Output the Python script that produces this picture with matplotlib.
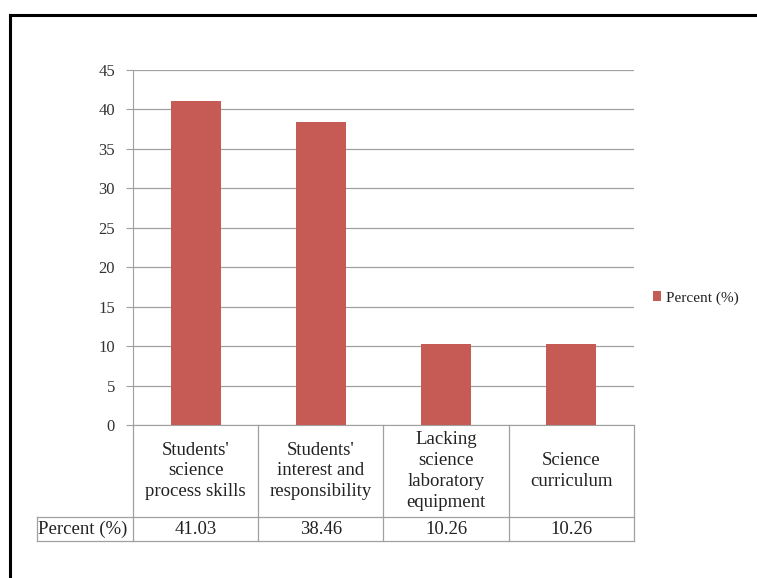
import matplotlib.pyplot as plt
from matplotlib.lines import Line2D
from matplotlib.transforms import blended_transform_factory

# --- Data ---
categories = ["Students'\nscience\nprocess skills",
              "Students'\ninterest and\nresponsibility",
              "Lacking\nscience\nlaboratory\nequipment",
              "Science\ncurriculum"]
values = [41.03, 38.46, 10.26, 10.26]
value_labels = ["41.03", "38.46", "10.26", "10.26"]
series_name = "Percent (%)"
yticks = [0, 5, 10, 15, 20, 25, 30, 35, 40, 45]

plt.rcParams["font.family"] = ["Liberation Serif", "DejaVu Serif"]

fig = plt.figure(figsize=(7.57, 5.78), dpi=100)
ax = fig.add_axes([0.1757, 0.2647, 0.6618, 0.6142])

grid_col = "#a0a0a0"
bar_col = "#c65b56"
txt_col = "#222222"

x = list(range(len(categories)))
ax.bar(x, values, width=0.4, color=bar_col, label=series_name, zorder=3)

ax.set_xlim(-0.5, len(categories) - 0.5)
ax.set_ylim(0, 45)
ax.set_yticks(yticks)
ax.set_xticks([])
ax.yaxis.grid(True, color=grid_col, linewidth=0.9, zorder=0)
ax.tick_params(axis="y", length=5, color=grid_col, labelsize=12, pad=8,
               labelcolor="#333333")
for s in ["top", "right"]:
    ax.spines[s].set_visible(False)
ax.spines["left"].set_color(grid_col)
ax.spines["bottom"].set_color(grid_col)

# --- Data table under the plot ---
tr = blended_transform_factory(ax.transData, ax.transAxes)
row1_bot = -0.259
row2_bot = -0.327
lab_left = -0.5 - 0.766
lkw = dict(color=grid_col, linewidth=0.9, transform=tr, clip_on=False)
# vertical lines of header cells
for xi in [i - 0.5 for i in range(len(categories) + 1)]:
    ax.add_line(Line2D([xi, xi], [0, row2_bot], **lkw))
ax.add_line(Line2D([lab_left, lab_left], [row1_bot, row2_bot], **lkw))
ax.add_line(Line2D([lab_left, len(categories) - 0.5], [row1_bot, row1_bot], **lkw))
ax.add_line(Line2D([lab_left, len(categories) - 0.5], [row2_bot, row2_bot], **lkw))

for i, (cat, lab) in enumerate(zip(categories, value_labels)):
    ax.text(i, row1_bot / 2, cat, transform=tr, ha="center", va="center",
            fontsize=13.5, linespacing=1.3, color=txt_col)
    ax.text(i, (row1_bot + row2_bot) / 2, lab, transform=tr, ha="center",
            va="center", fontsize=13.5, color=txt_col)
ax.text(lab_left + 0.01, (row1_bot + row2_bot) / 2, series_name, transform=tr,
        ha="left", va="center", fontsize=13.5, color=txt_col)

# --- Legend ---
ax.legend(loc="center left", bbox_to_anchor=(1.01, 0.358), frameon=False,
          handlelength=0.55, handleheight=0.55, handletextpad=0.3, fontsize=11,
          labelcolor=txt_col)

# --- Black frame (top and left) ---
W, H = 757, 578
fig.add_artist(Line2D([10 / W, 10 / W], [0, 1 - 15 / H], color="black",
                      linewidth=2.2, transform=fig.transFigure))
fig.add_artist(Line2D([10 / W, 1], [1 - 15 / H, 1 - 15 / H], color="black",
                      linewidth=2.2, transform=fig.transFigure))

fig.savefig("out.png", dpi=100)
